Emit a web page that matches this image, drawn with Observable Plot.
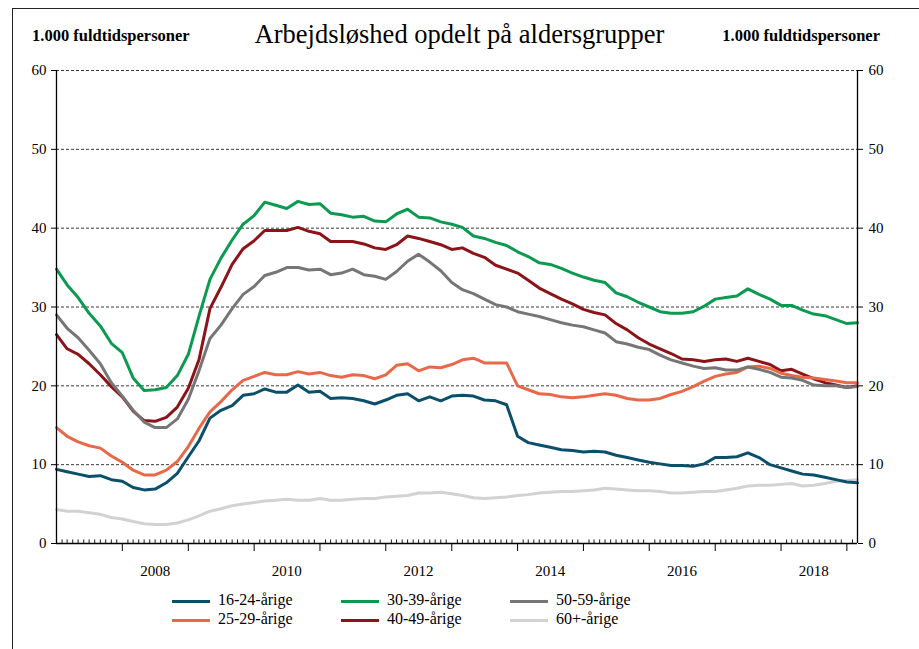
<!DOCTYPE html>
<html><head><meta charset="utf-8">
<script src="https://cdn.jsdelivr.net/npm/d3@7"></script>
<script src="https://cdn.jsdelivr.net/npm/@observablehq/plot@0.6"></script>
<style>
body{margin:0;background:#fff;font-family:"Liberation Serif",serif;color:#000;}
#wrap{position:relative;width:919px;height:649px;overflow:hidden;background:#fff;}
#frame{position:absolute;left:12px;top:8px;width:1000px;height:1000px;border-left:1.5px solid #222;border-top:1.5px solid #222;}
#chart{position:absolute;left:0;top:0;}
#chart svg text{font-family:"Liberation Serif",serif;}
.unit{position:absolute;top:26px;font-weight:bold;font-size:16.5px;white-space:nowrap;}
#title{position:absolute;top:19px;left:0;width:919px;text-align:center;font-size:26.5px;white-space:nowrap;}
.leg{position:absolute;font-size:16px;white-space:nowrap;}
.leg span.sw{position:absolute;left:0;top:9px;width:38px;height:3.2px;}
.leg span.tx{position:absolute;left:46px;top:0;}
</style></head>
<body><div id="wrap"><div id="frame"></div><div id="chart"></div>
<div class="unit" style="left:32px">1.000 fuldtidspersoner</div>
<div class="unit" style="right:39px">1.000 fuldtidspersoner</div>
<div id="title">Arbejdsløshed opdelt på aldersgrupper</div>
<div id="legend"></div>
</div>
<script>
// Series names and colours
const seriesNames = ["16-24-årige","25-29-årige","30-39-årige","40-49-årige","50-59-årige","60+-årige"];
const seriesColors = ["#0b4f6b","#e8694a","#0b9a50","#8c1419","#767676","#d2d2d2"];
// Data: every 2 months starting January 2007 (1.000 fuldtidspersoner)
const s1624 = [9.4,9.1,8.8,8.5,8.6,8.1,7.9,7.1,6.8,6.9,7.7,8.9,11.0,13.0,15.9,16.9,17.5,18.8,19.0,19.6,19.2,19.2,20.1,19.2,19.3,18.4,18.5,18.4,18.1,17.7,18.2,18.8,19.0,18.1,18.6,18.1,18.7,18.8,18.7,18.2,18.1,17.6,13.6,12.8,12.5,12.2,11.9,11.8,11.6,11.7,11.6,11.2,10.9,10.6,10.3,10.1,9.9,9.9,9.8,10.1,10.9,10.9,11.0,11.5,10.9,10.0,9.6,9.2,8.8,8.7,8.4,8.1,7.8,7.7];
const s2529 = [14.7,13.6,12.9,12.4,12.1,11.1,10.3,9.3,8.7,8.7,9.3,10.4,12.3,14.6,16.7,18.0,19.5,20.7,21.2,21.7,21.4,21.4,21.8,21.5,21.7,21.3,21.1,21.4,21.3,20.9,21.4,22.6,22.8,21.9,22.4,22.3,22.7,23.3,23.5,22.9,22.9,22.9,20.0,19.5,19.0,18.9,18.6,18.5,18.6,18.8,19.0,18.8,18.4,18.2,18.2,18.4,18.9,19.3,19.9,20.6,21.2,21.5,21.7,22.4,22.5,22.2,21.6,21.3,21.1,21.0,20.8,20.6,20.4,20.4];
const s3039 = [34.8,32.8,31.2,29.2,27.6,25.4,24.2,21.0,19.4,19.5,19.8,21.3,24.0,28.8,33.5,36.2,38.5,40.5,41.6,43.3,42.9,42.5,43.4,43.0,43.1,41.9,41.7,41.4,41.5,40.9,40.8,41.8,42.4,41.4,41.3,40.8,40.5,40.1,39.0,38.7,38.2,37.8,37.0,36.4,35.6,35.4,34.9,34.3,33.8,33.4,33.1,31.8,31.3,30.6,30.0,29.4,29.2,29.2,29.4,30.1,31.0,31.2,31.4,32.3,31.6,31.0,30.2,30.2,29.6,29.1,28.9,28.4,27.9,28.0];
const s4049 = [26.5,24.7,24.0,22.8,21.4,19.9,18.6,16.8,15.6,15.5,16.0,17.3,19.7,23.3,29.8,32.5,35.4,37.4,38.4,39.7,39.7,39.7,40.1,39.6,39.3,38.3,38.3,38.3,38.0,37.5,37.3,37.9,39.0,38.7,38.3,37.9,37.3,37.5,36.8,36.3,35.3,34.8,34.3,33.4,32.4,31.7,31.0,30.4,29.7,29.3,29.0,27.9,27.1,26.1,25.3,24.7,24.1,23.4,23.3,23.1,23.3,23.4,23.1,23.5,23.1,22.7,21.9,22.1,21.5,20.9,20.4,20.1,19.8,20.0];
const s5059 = [29.0,27.3,26.1,24.5,22.8,20.4,18.7,16.9,15.4,14.7,14.7,15.8,18.3,21.9,26.0,27.7,29.8,31.6,32.6,34.0,34.4,35.0,35.0,34.7,34.8,34.1,34.3,34.8,34.1,33.9,33.5,34.5,35.8,36.7,35.7,34.6,33.1,32.2,31.7,31.0,30.3,30.0,29.4,29.1,28.8,28.4,28.0,27.7,27.5,27.1,26.7,25.6,25.3,24.9,24.6,23.9,23.3,22.9,22.5,22.2,22.3,22.0,22.0,22.4,22.1,21.7,21.1,21.0,20.7,20.1,20.0,20.0,19.8,19.9];
const s60 = [4.3,4.1,4.1,3.9,3.7,3.3,3.1,2.8,2.5,2.4,2.4,2.6,3.0,3.5,4.1,4.4,4.8,5.0,5.2,5.4,5.5,5.6,5.5,5.5,5.7,5.5,5.5,5.6,5.7,5.7,5.9,6.0,6.1,6.4,6.4,6.5,6.3,6.1,5.8,5.7,5.8,5.9,6.1,6.2,6.4,6.5,6.6,6.6,6.7,6.8,7.0,6.9,6.8,6.7,6.7,6.6,6.4,6.4,6.5,6.6,6.6,6.8,7.0,7.3,7.4,7.4,7.5,7.6,7.3,7.4,7.6,7.9,8.0,8.1];
// Axis ticks
const yTicks = [0,10,20,30,40,50,60];
const gridTicks = [10,20,30,40,50,60];
const yearLabels = [2008,2010,2012,2014,2016,2018];
const startYear = 2007, startMonth = 0, stepMonths = 2;

const t0 = new Date(Date.UTC(startYear, startMonth, 1));
const tEnd = new Date(Date.UTC(2019, 2, 1));
const seriesValues = [s1624, s2529, s3039, s4049, s5059, s60];
const data = [];
seriesValues.forEach((vals, k) => vals.forEach((v, i) => data.push({date: d3.utcMonth.offset(t0, i * stepMonths), series: seriesNames[k], value: v})));
const drawOrder = ["60+-årige","16-24-årige","30-39-årige","40-49-årige","25-29-årige","50-59-årige"];
const yearStarts = d3.utcYear.range(new Date(Date.UTC(2008,0,1)), tEnd);
const monthTicks = d3.utcMonth.range(t0, tEnd).filter(d => d.getUTCMonth() !== 0);
const midYears = yearLabels.map(y => new Date(Date.UTC(y, 6, 1)));

const chart = Plot.plot({
  width: 919, height: 585,
  marginLeft: 56, marginRight: 62, marginTop: 70, marginBottom: 42,
  x: {type: "utc", domain: [t0, tEnd]},
  y: {domain: [0, 60]},
  color: {domain: seriesNames, range: seriesColors},
  style: {fontFamily: "'Liberation Serif', serif", fontSize: "15px", color: "#000", background: "transparent"},
  marks: [
    Plot.ruleY(gridTicks, {stroke: "#222", strokeDasharray: "3,2", strokeWidth: 0.9}),
    Plot.axisY(yTicks, {anchor: "left", tickSize: 5, tickPadding: 5, label: null, fontSize: 15}),
    Plot.axisY(yTicks, {anchor: "right", tickSize: 5, tickPadding: 6, label: null, fontSize: 15}),
    Plot.ruleX(monthTicks, {x: d => d, y1: 0, y2: 0.45, stroke: "#000", strokeWidth: 0.9}),
    Plot.axisX(yearStarts, {anchor: "bottom", tickSize: 8, tickFormat: () => "", label: null}),
    Plot.axisX(midYears, {anchor: "bottom", tickSize: 0, tickPadding: 22, tickFormat: d => String(d.getUTCFullYear()), label: null, fontSize: 15}),
    ...drawOrder.map(name => Plot.line(data.filter(d => d.series === name), {x: "date", y: "value", stroke: "series", strokeWidth: 3, curve: "linear"})),
    Plot.ruleX([t0, tEnd], {stroke: "#000", strokeWidth: 1.3}),
    Plot.ruleY([0], {stroke: "#000", strokeWidth: 1.3})
  ]
});
document.getElementById("chart").appendChild(chart);

// Legend (3 columns x 2 rows)
const legPos = [[172,591],[172,610],[341,591],[341,610],[510,591],[510,610]];
const legOrder = ["16-24-årige","25-29-årige","30-39-årige","40-49-årige","50-59-årige","60+-årige"];
const legend = document.getElementById("legend");
legOrder.forEach((name, i) => {
  const el = document.createElement("div");
  el.className = "leg";
  el.style.left = legPos[i][0] + "px";
  el.style.top = legPos[i][1] + "px";
  el.innerHTML = `<span class="sw" style="background:${seriesColors[seriesNames.indexOf(name)]}"></span><span class="tx">${name}</span>`;
  legend.appendChild(el);
});
</script>
</body></html>
